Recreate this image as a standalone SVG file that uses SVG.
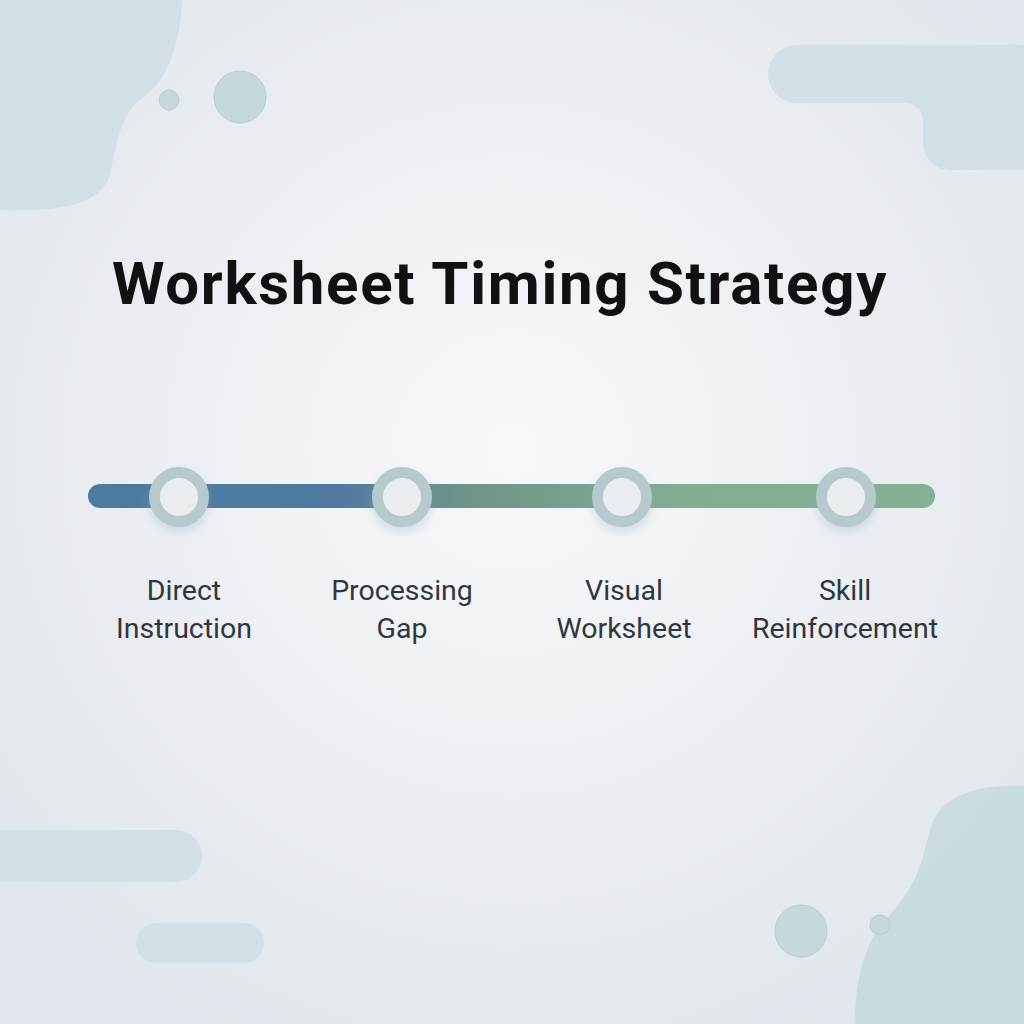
<svg xmlns="http://www.w3.org/2000/svg" width="1024" height="1024" viewBox="0 0 1024 1024">
  <defs>
    <radialGradient id="bg" cx="0.5" cy="0.44" r="0.65">
      <stop offset="0" stop-color="#f7f8fa"/>
      <stop offset="0.5" stop-color="#eceff3"/>
      <stop offset="1" stop-color="#e0e6eb"/>
    </radialGradient>
    <linearGradient id="bar" x1="88" y1="0" x2="935" y2="0" gradientUnits="userSpaceOnUse">
      <stop offset="0" stop-color="#4e79a0"/>
      <stop offset="0.3" stop-color="#4f7a9e"/>
      <stop offset="0.45" stop-color="#6e9588"/>
      <stop offset="0.7" stop-color="#82ad93"/>
      <stop offset="1" stop-color="#85b095"/>
    </linearGradient>
    <filter id="shadow" x="-50%" y="-50%" width="200%" height="200%">
      <feDropShadow dx="0" dy="5" stdDeviation="5" flood-color="#8fb0c0" flood-opacity="0.35"/>
    </filter>
    <style>
      .title { font-family: Roboto, "Liberation Sans", sans-serif; font-weight: 700; font-size: 60px; letter-spacing: 1.7px; fill: #111111; }
      .label { font-family: Roboto, "Liberation Sans", sans-serif; font-weight: 400; font-size: 28.5px; fill: #30373c; text-anchor: middle; }
      .blob { fill: #cfdde4; opacity: 0.85; }
      .blobg { fill: #c6dadb; opacity: 0.9; }
      .bubble { fill: #c5d8da; stroke: #b8cdcf; stroke-width: 1; }
      .ring { fill: #e9edf0; stroke: #b6c9cd; stroke-width: 11; }
    </style>
  </defs>

  <rect width="1024" height="1024" fill="url(#bg)"/>

  <g id="decor">
    <path class="blob" d="M0 0 H182 C180 40 170 80 140 100 C120 115 115 150 110 175 C100 205 60 212 0 210 Z"/>
    <path class="blob" d="M797 45 H1024 V170 H952 C935 170 923 160 923 140 V120 C923 110 915 103 905 103 H797 C781 103 768 90 768 74 C768 58 781 45 797 45 Z"/>
    <path class="blob" d="M0 830 H176 C190 830 202 842 202 856 C202 870 190 882 176 882 H0 Z"/>
    <rect class="blob" x="136" y="923" width="128" height="40" rx="20"/>
    <path class="blobg" d="M1024 786 C990 784 940 790 930 830 C922 860 920 880 890 915 C860 945 855 990 855 1024 H1024 Z"/>
    <circle class="bubble" cx="169" cy="100" r="10"/>
    <circle class="bubble" cx="240" cy="97" r="26"/>
    <circle class="bubble" cx="801" cy="931" r="26"/>
    <circle class="bubble" cx="880" cy="925" r="10"/>
  </g>

  <g id="title">
    <text class="title" x="500" y="304" text-anchor="middle">Worksheet Timing Strategy</text>
  </g>

  <g id="connectors">
    <rect x="88" y="484" width="847" height="24" rx="12" fill="url(#bar)"/>
  </g>

  <g id="node-direct-instruction">
    <circle class="ring" cx="179" cy="497" r="24.5" filter="url(#shadow)"/>
    <text class="label" x="184" y="600">Direct</text>
    <text class="label" x="184" y="638">Instruction</text>
  </g>
  <g id="node-processing-gap">
    <circle class="ring" cx="402" cy="497" r="24.5" filter="url(#shadow)"/>
    <text class="label" x="402" y="600">Processing</text>
    <text class="label" x="402" y="638">Gap</text>
  </g>
  <g id="node-visual-worksheet">
    <circle class="ring" cx="622" cy="497" r="24.5" filter="url(#shadow)"/>
    <text class="label" x="624" y="600">Visual</text>
    <text class="label" x="624" y="638">Worksheet</text>
  </g>
  <g id="node-skill-reinforcement">
    <circle class="ring" cx="846" cy="497" r="24.5" filter="url(#shadow)"/>
    <text class="label" x="845" y="600">Skill</text>
    <text class="label" x="845" y="638">Reinforcement</text>
  </g>
</svg>
